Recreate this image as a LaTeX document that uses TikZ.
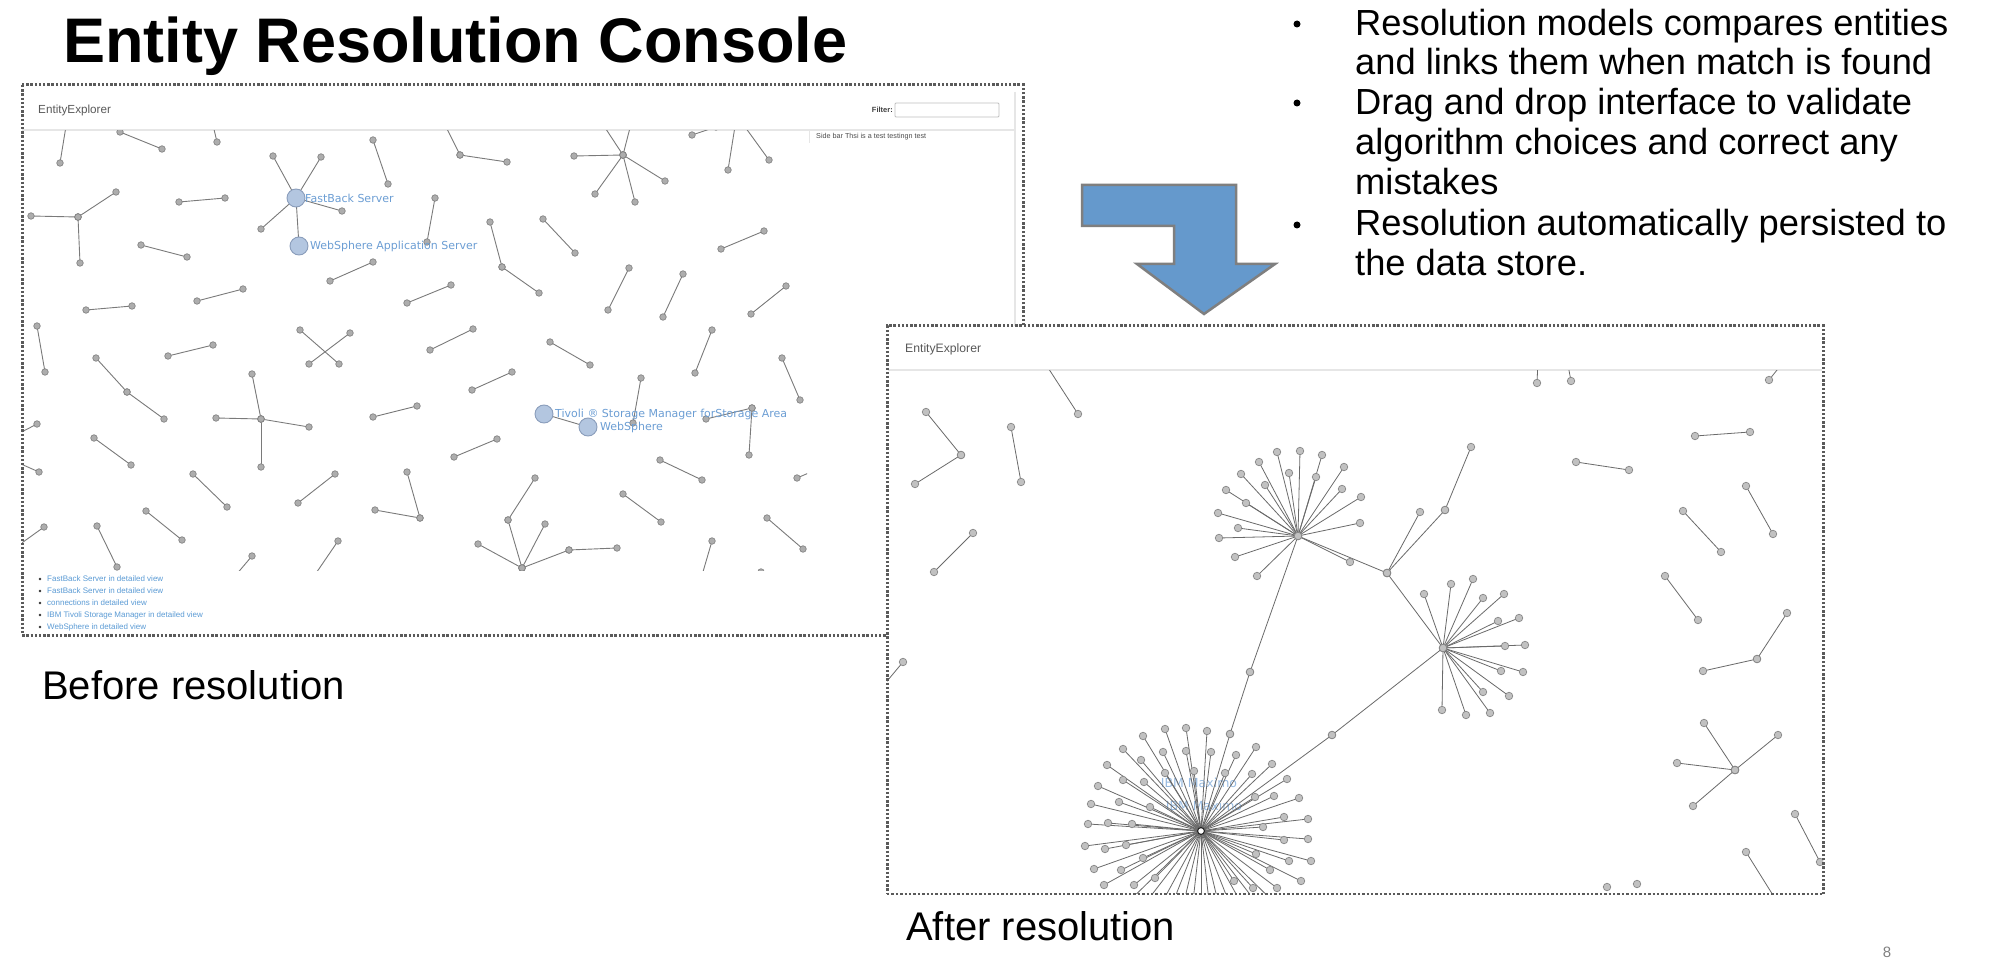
\documentclass[tikz,border=0pt]{standalone}
\usepackage{fontspec}
\setmainfont{Liberation Sans}
\newfontfamily\dejavu{DejaVu Sans}
\definecolor{edgec}{HTML}{7A7A7A}
\definecolor{redgec}{HTML}{6A6A6A}
\definecolor{nodef}{HTML}{ADADAD}
\definecolor{nodes}{HTML}{858585}
\definecolor{linkblue}{HTML}{5B9BD5}
\definecolor{lblblue}{HTML}{6C9ED4}
\definecolor{bignode}{HTML}{B3C6E0}
\definecolor{bignodes}{HTML}{8A9DBB}
\definecolor{arrowblue}{HTML}{6599CC}
\definecolor{arrowgray}{HTML}{7F7F7F}
\definecolor{bordc}{HTML}{5A5A5A}
\definecolor{sepc}{HTML}{E6E6E6}
\tikzset{
  edge/.style={draw=edgec, line width=0.9pt},
  redge/.style={draw=redgec, line width=0.8pt},
  gnode/.style={circle, fill=nodef, draw=nodes, line width=0.7pt, minimum size=6.5pt, inner sep=0pt},
  rnode/.style={circle, fill=nodef!75, draw=nodes, line width=0.7pt, minimum size=7.5pt, inner sep=0pt},
  bnode/.style={circle, fill=bignode, draw=bignodes, line width=0.9pt, minimum size=18pt, inner sep=0pt},
  boxborder/.style={draw=bordc, line width=3pt, dash pattern=on 2.4pt off 1.8pt},
  thinborder/.style={draw=bordc, line width=1.6pt, dash pattern=on 2.4pt off 2pt},
  bigtxt/.style={inner sep=0pt, anchor=base west, font=\fontsize{36.3}{40}\selectfont},
  captxt/.style={inner sep=0pt, anchor=base west, font=\fontsize{40}{44}\selectfont},
  hdrtxt/.style={inner sep=0pt, anchor=west, text=black!65},
  linktxt/.style={inner sep=0pt, anchor=west, text=linkblue, font=\fontsize{8}{9}\selectfont},
  glabel/.style={inner sep=0pt, anchor=west, text=lblblue, font=\dejavu\fontsize{11}{12}\selectfont},
  bulletdot/.style={circle, fill=black, inner sep=0pt, minimum size=7pt}
}
\begin{document}
\begin{tikzpicture}[x=1pt,y=-1pt]
\useasboundingbox (0,0) rectangle (1990,976);
\fill[white] (0,0) rectangle (1990,976);

% ---------------- title and bullets ----------------
\node[inner sep=0pt, anchor=base west, font=\fontsize{63}{70}\selectfont\bfseries] (title) at (63,63) {Entity Resolution Console};

\node[bulletdot] (b1) at (1297,24) {};
\node[bulletdot] (b2) at (1297,103) {};
\node[bulletdot] (b3) at (1297,225) {};
\node[bigtxt] (t1) at (1355,36) {Resolution models compares entities};
\node[bigtxt] (t2) at (1355,75) {and links them when match is found};
\node[bigtxt] (t3) at (1355,115) {Drag and drop interface to validate};
\node[bigtxt] (t4) at (1355,155) {algorithm choices and correct any};
\node[bigtxt] (t5) at (1355,195) {mistakes};
\node[bigtxt] (t6) at (1355,236) {Resolution automatically persisted to};
\node[bigtxt] (t7) at (1355,276) {the data store.};

% ---------------- blue arrow ----------------
\draw[fill=arrowblue, draw=arrowgray, line width=2.5pt, line join=miter]
  (1082,185) -- (1236,185) -- (1236,264) -- (1275,264) -- (1204,314) -- (1137,264)
  -- (1174,264) -- (1174,226) -- (1082,226) -- cycle;

% ---------------- BEFORE window ----------------
\node[hdrtxt, font=\fontsize{11.7}{13}\selectfont] (lhdr) at (38,110) {EntityExplorer};
\draw[sepc, line width=1.5pt] (22,130) -- (1015,130);
\node[inner sep=0pt, anchor=east, font=\fontsize{7.5}{9}\selectfont\bfseries, text=black!75] (filt) at (893,110) {Filter:};
\draw[black!25, line width=0.8pt, rounded corners=1pt] (895,103) rectangle (999,117);
\draw[sepc, line width=1pt] (809,130) -- (809,143);
\node[inner sep=0pt, anchor=west, font=\fontsize{7.2}{9}\selectfont, text=black!70] (side) at (816,137) {Side bar Thsi is a test testingn test};
\draw[sepc, line width=1.8pt] (1015,92) -- (1015,326);

\def\LE{67/120/60/163, 120/132/162/149, 213/125/217/142,
 296/198/273/156, 296/198/321/157, 296/198/342/211, 296/198/261/229, 296/198/299/246,
 373/140/388/184, 445/125/460/155, 460/155/507/162,
 78/217/31/216, 78/217/116/192, 78/217/80/263, 179/202/225/198, 435/198/427/242,
 490/222/502/267, 502/267/539/293, 141/245/187/257, 330/281/373/262, 86/310/132/306,
 197/301/243/289, 407/303/451/285, 37/326/45/372, 96/358/127/392, 127/392/164/419,
 168/356/213/345, 300/330/339/364, 350/333/309/364,
 261/419/252/374, 261/419/216/418, 261/419/309/427, 261/419/261/467,
 430/350/473/329, 512/372/472/390, 373/417/417/406, 454/457/497/439, 37/424/12/437,
 94/438/131/465, 12/460/39/472, 193/474/227/507, 335/474/298/503, 407/472/420/518,
 375/510/420/518, 522/568/508/520, 508/520/535/478, 522/568/545/524, 522/568/478/544,
 522/568/569/550, 569/550/617/548, 44/527/12/550, 97/526/117/567, 146/511/182/540,
 252/556/230/582, 338/541/310/582,
 623/155/574/156, 623/155/665/181, 623/155/595/194, 623/155/635/202, 623/155/600/120,
 623/155/632/120, 692/135/716/127, 736/120/728/170, 740/120/769/160, 543/219/575/253,
 721/249/764/231, 629/268/608/310, 683/274/663/317, 786/286/751/314, 550/342/590/365,
 712/330/695/373, 782/358/800/400, 544/414/588/427, 641/378/633/423, 752/408/706/419,
 752/408/749/455, 660/460/702/480, 797/478/818/469, 623/494/661/522, 767/518/803/549,
 712/541/700/582}

\begin{scope}
\clip (22,131) rectangle (807,570);
\foreach \a/\b/\c/\d in \LE {\draw[edge] (\a,\b) -- (\c,\d);}
\foreach \a/\b/\c/\d in \LE {\node[gnode] (l\a-\b) at (\a,\b) {}; \node[gnode] (l\c-\d) at (\c,\d) {};}
\node[gnode] (lsolo) at (761,572) {};
\node[bnode] (fb) at (296,198) {};
\node[bnode] (was) at (299,246) {};
\node[bnode] (tiv) at (544,414) {};
\node[bnode] (ws) at (588,427) {};
\node[glabel] (fbl) at (305,198) {FastBack Server};
\node[glabel] (wasl) at (310,246) {WebSphere Application Server};
\node[glabel] (tivl) at (555,414) {Tivoli ® Storage Manager forStorage Area};
\node[glabel] (wsl) at (600,427) {WebSphere};
\end{scope}

% link list
\foreach \yy/\txt [count=\i] in {579/FastBack Server in detailed view, 591/FastBack Server in detailed view,
  603/connections in detailed view, 615/IBM Tivoli Storage Manager in detailed view, 627/WebSphere in detailed view} {
  \fill[black!80] (40,\yy) circle (1.3pt);
  \node[linktxt] (lk\i) at (47,\yy) {\txt};
}

% border of the BEFORE window
\draw[boxborder] (22,85) rectangle (1023,635);

% ---------------- AFTER window ----------------
\fill[white] (887,326) rectangle (1823,894);
\node[hdrtxt, font=\fontsize{12.2}{13}\selectfont] (rhdr) at (905,349) {EntityExplorer};
\draw[sepc, line width=2pt] (888,370) -- (1822,370);

\def\RE{1043/360/1078/414, 926/412/961/455, 961/455/915/484, 1011/427/1021/482,
 973/533/934/572, 903/662/878/692,
 1298/536/1387/573, 1387/573/1420/512, 1387/573/1445/510, 1445/510/1471/447,
 1298/536/1250/672, 1250/672/1230/734, 1230/734/1201/831,
 1387/573/1443/648, 1443/648/1332/735, 1332/735/1201/831,
 1538/360/1537/383, 1567/360/1571/381, 1785/360/1769/380, 1695/436/1750/432,
 1576/462/1629/470, 1746/486/1773/534, 1683/511/1721/552, 1665/576/1698/620,
 1787/613/1757/659, 1757/659/1703/671,
 1735/770/1704/723, 1735/770/1778/735, 1735/770/1677/763, 1735/770/1693/806,
 1795/814/1820/862, 1746/852/1776/900}

\def\SA{1277/452, 1300/451, 1322/455, 1259/462, 1289/473, 1316/477, 1344/467, 1241/474,
 1265/485, 1342/489, 1226/490, 1246/503, 1361/497, 1218/513, 1238/528, 1360/523,
 1219/538, 1235/557, 1257/576, 1350/562}
\def\SB{1424/594, 1451/584, 1473/579, 1483/598, 1504/594, 1498/621, 1519/618, 1505/646,
 1525/645, 1501/671, 1523/672, 1483/692, 1509/696, 1442/710, 1466/715, 1490/713}
\def\SC{1143/736, 1165/729, 1186/728, 1207/731, 1256/747, 1123/749, 1141/760, 1163/752,
 1186/751, 1211/752, 1236/755, 1272/764, 1107/765, 1123/780, 1144/782, 1165/773,
 1194/771, 1225/773, 1252/774, 1287/779, 1098/786, 1119/802, 1150/807, 1255/797,
 1274/796, 1299/798, 1091/804, 1088/824, 1108/823, 1132/824, 1284/817, 1308/819,
 1263/827, 1085/846, 1105/849, 1126/845, 1284/840, 1308/839, 1094/869, 1121/870,
 1143/858, 1256/854, 1270/870, 1289/861, 1311/861, 1104/885, 1134/885, 1155/878,
 1234/881, 1253/888, 1277/888, 1301/881}
\def\SD{1120/910, 1140/910, 1158/910, 1170/910, 1182/910, 1192/910, 1201/910, 1210/910,
 1220/910, 1232/910, 1245/910, 1262/910, 1282/910}

\begin{scope}
\clip (887,371) rectangle (1823,893);
\node[inner sep=0pt, text=lblblue!70, font=\dejavu\fontsize{12.5}{13}\selectfont] (max1) at (1199,783) {IBM Maximo};
\node[inner sep=0pt, text=lblblue!70, font=\dejavu\fontsize{12.5}{13}\selectfont] (max2) at (1204,806) {IBM Maximo};
\foreach \a/\b/\c/\d in \RE {\draw[redge] (\a,\b) -- (\c,\d);}
\foreach \c/\d in \SA {\draw[redge] (1298,536) -- (\c,\d);}
\foreach \c/\d in \SB {\draw[redge] (1443,648) -- (\c,\d);}
\foreach \c/\d in \SC {\draw[redge] (1201,831) -- (\c,\d);}
\foreach \c/\d in \SD {\draw[redge] (1201,831) -- (\c,\d);}
\foreach \a/\b/\c/\d in \RE {\node[rnode] (r\a-\b) at (\a,\b) {}; \node[rnode] (r\c-\d) at (\c,\d) {};}
\foreach \c/\d in \SA {\node[rnode] (sa\c-\d) at (\c,\d) {};}
\foreach \c/\d in \SB {\node[rnode] (sb\c-\d) at (\c,\d) {};}
\foreach \c/\d in \SC {\node[rnode] (sc\c-\d) at (\c,\d) {};}
\node[rnode] (s1) at (1298,536) {};
\node[rnode] (s2) at (1443,648) {};
\node[circle, draw=black!85, fill=white, line width=1.2pt, minimum size=7pt, inner sep=0pt] (s3) at (1201,831) {};
\node[rnode] (n1607) at (1607,887) {};
\node[rnode] (n1637) at (1637,884) {};
\end{scope}

% borders of the AFTER window
\draw[boxborder] (1823,894) -- (1823,326) -- (887,326) -- (887,894);
\draw[thinborder] (887,894) -- (1823,894);

% ---------------- captions ----------------
\node[captxt] (before) at (42,699) {Before resolution};
\node[captxt] (after) at (906,940) {After resolution};
\node[inner sep=0pt, text=black!50, font=\fontsize{15}{16}\selectfont] (pg) at (1887,952) {8};
\end{tikzpicture}
\end{document}
